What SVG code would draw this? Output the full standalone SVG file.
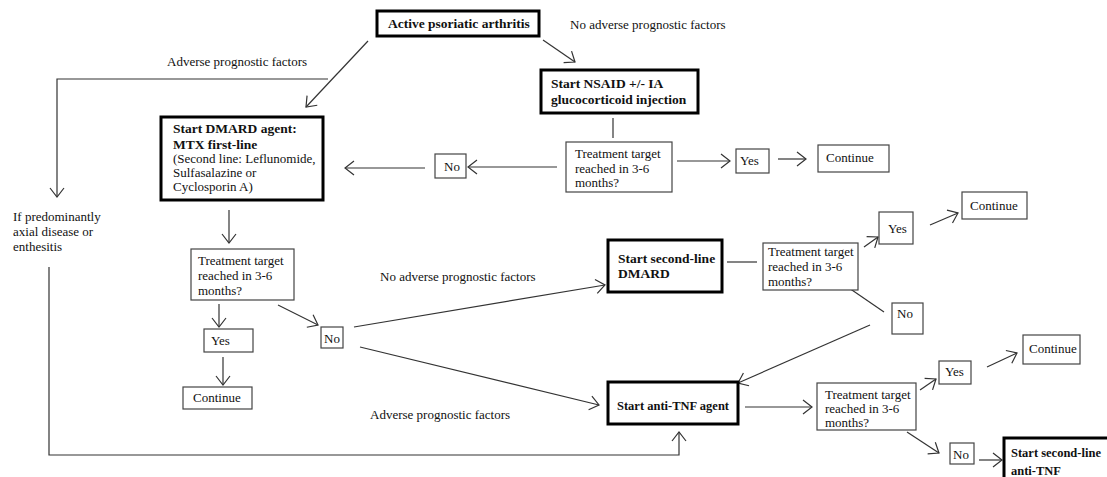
<svg xmlns="http://www.w3.org/2000/svg" width="1107" height="477" viewBox="0 0 1107 477">
<style>
text{font-family:"Liberation Serif","Times New Roman",serif;font-size:13px;fill:#111}
.b{font-weight:bold;font-size:13.5px}
.thick{fill:#fff;stroke:#000;stroke-width:3}
.thin{fill:#fff;stroke:#444;stroke-width:1.2}
.c{fill:none;stroke:#333;stroke-width:1.2}
</style>
<defs>
<marker id="ah" markerUnits="userSpaceOnUse" markerWidth="14" markerHeight="18" refX="10" refY="8" orient="auto" viewBox="0 0 14 16">
<path d="M1,1 L10,8 L1,15" fill="none" stroke="#333" stroke-width="1.2"/>
</marker>
</defs>
<rect width="1107" height="477" fill="#fff"/>
<g id="connectors">
<line class="c" x1="368" y1="41" x2="306" y2="107" marker-end="url(#ah)"/>
<line class="c" x1="543" y1="40" x2="575" y2="62" marker-end="url(#ah)"/>
<polyline class="c" points="328,79 57,79 57,197" marker-end="url(#ah)"/>
<line class="c" x1="613" y1="118" x2="613" y2="138"/>
<line class="c" x1="677" y1="161" x2="730" y2="161" marker-end="url(#ah)"/>
<line class="c" x1="778" y1="159" x2="806" y2="159" marker-end="url(#ah)"/>
<line class="c" x1="557" y1="167" x2="468" y2="167" marker-end="url(#ah)"/>
<line class="c" x1="425" y1="168" x2="345" y2="168" marker-end="url(#ah)"/>
<line class="c" x1="229" y1="210" x2="229" y2="243" marker-end="url(#ah)"/>
<line class="c" x1="219" y1="304" x2="219" y2="327" marker-end="url(#ah)"/>
<line class="c" x1="223" y1="357" x2="223" y2="385" marker-end="url(#ah)"/>
<line class="c" x1="278" y1="305" x2="318" y2="325" marker-end="url(#ah)"/>
<line class="c" x1="354" y1="327" x2="605" y2="285" marker-end="url(#ah)"/>
<line class="c" x1="360" y1="347" x2="599" y2="405" marker-end="url(#ah)"/>
<line class="c" x1="727" y1="262" x2="757" y2="262"/>
<line class="c" x1="864" y1="247" x2="878" y2="237" marker-end="url(#ah)"/>
<line class="c" x1="930" y1="225" x2="958" y2="213" marker-end="url(#ah)"/>
<line class="c" x1="849" y1="288" x2="884" y2="312"/>
<line class="c" x1="870" y1="325" x2="738" y2="383" marker-end="url(#ah)"/>
<polyline class="c" points="49,267 49,455 679,455 679,432" marker-end="url(#ah)"/>
<line class="c" x1="745" y1="407" x2="812" y2="407" marker-end="url(#ah)"/>
<line class="c" x1="920" y1="390" x2="936" y2="379" marker-end="url(#ah)"/>
<line class="c" x1="987" y1="367" x2="1017" y2="353" marker-end="url(#ah)"/>
<line class="c" x1="907" y1="432" x2="939" y2="453" marker-end="url(#ah)"/>
<line class="c" x1="979" y1="460" x2="1002" y2="460" marker-end="url(#ah)"/>
</g>
<g id="labels">
<text x="570" y="29">No adverse prognostic factors</text>
<text x="167" y="66">Adverse prognostic factors</text>
<text x="380" y="281">No adverse prognostic factors</text>
<text x="370" y="419">Adverse prognostic factors</text>
<text x="13" y="221">If predominantly</text>
<text x="13" y="236">axial disease or</text>
<text x="13" y="251">enthesitis</text>
</g>
<g id="n-active"><rect class="thick" x="377" y="11" width="162" height="25"/><text class="b" x="388" y="28">Active psoriatic arthritis</text></g>
<g id="n-nsaid"><rect class="thick" x="541" y="70" width="157" height="43"/><text class="b" x="551" y="88">Start NSAID +/- IA</text><text class="b" x="551" y="104">glucocorticoid injection</text></g>
<g id="n-tt1"><rect class="thin" x="566" y="142" width="106" height="50"/><text x="575" y="158">Treatment target</text><text x="575" y="173">reached in 3-6</text><text x="575" y="187">months?</text></g>
<g id="n-yes1"><rect class="thin" x="736" y="149" width="33" height="24"/><text x="740" y="165">Yes</text></g>
<g id="n-cont1"><rect class="thin" x="818" y="145" width="71" height="27"/><text x="826" y="162">Continue</text></g>
<g id="n-no1"><rect class="thin" x="435" y="154" width="31" height="24"/><text x="444" y="171">No</text></g>
<g id="n-dmard"><rect class="thick" x="161" y="117" width="162" height="83"/><text class="b" x="173" y="133">Start DMARD agent:</text><text class="b" x="173" y="149">MTX first-line</text><text x="173" y="163">(Second line: Leflunomide,</text><text x="173" y="177">Sulfasalazine or</text><text x="173" y="191">Cyclosporin A)</text></g>
<g id="n-tt2"><rect class="thin" x="191" y="249" width="103" height="51"/><text x="198" y="265">Treatment target</text><text x="198" y="280">reached in 3-6</text><text x="198" y="295">months?</text></g>
<g id="n-yes2"><rect class="thin" x="204" y="329" width="49" height="23"/><text x="211" y="345">Yes</text></g>
<g id="n-cont2"><rect class="thin" x="183" y="387" width="69" height="22"/><text x="193" y="402">Continue</text></g>
<g id="n-no2"><rect class="thin" x="321" y="327" width="22" height="21"/><text x="324" y="343">No</text></g>
<g id="n-dmard2"><rect class="thick" x="608" y="240" width="114" height="52"/><text class="b" x="618" y="263">Start second-line</text><text class="b" x="618" y="278">DMARD</text></g>
<g id="n-tt3"><rect class="thin" x="763" y="243" width="95" height="47"/><text x="768" y="256">Treatment target</text><text x="768" y="271">reached in 3-6</text><text x="768" y="286">months?</text></g>
<g id="n-yes3"><rect class="thin" x="879" y="212" width="34" height="32"/><text x="888" y="233">Yes</text></g>
<g id="n-cont3"><rect class="thin" x="962" y="192" width="65" height="27"/><text x="970" y="210">Continue</text></g>
<g id="n-no3"><rect class="thin" x="892" y="303" width="31" height="31"/><text x="897" y="318">No</text></g>
<g id="n-antitnf"><rect class="thick" x="608" y="382" width="130" height="42"/><text class="b" x="617" y="410" style="font-size:12.5px">Start anti-TNF agent</text></g>
<g id="n-tt4"><rect class="thin" x="817" y="383" width="99" height="47"/><text x="825" y="399">Treatment target</text><text x="825" y="413">reached in 3-6</text><text x="825" y="427">months?</text></g>
<g id="n-yes4"><rect class="thin" x="939" y="361" width="32" height="23"/><text x="945" y="376">Yes</text></g>
<g id="n-cont4"><rect class="thin" x="1023" y="335" width="57" height="29"/><text x="1029" y="353">Continue</text></g>
<g id="n-no4"><rect class="thin" x="950" y="443" width="24" height="21"/><text x="953" y="459">No</text></g>
<g id="n-antitnf2"><rect class="thick" x="1004" y="438" width="112" height="50"/><text class="b" x="1011" y="457" style="font-size:12.5px">Start second-line</text><text class="b" x="1011" y="475" style="font-size:12.5px">anti-TNF</text></g>
</svg>
